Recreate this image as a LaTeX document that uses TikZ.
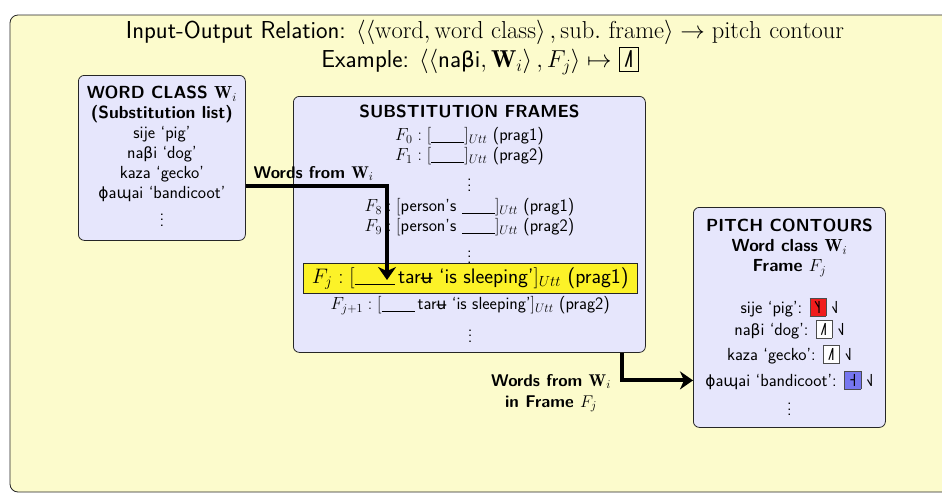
\RequirePackage{fix-cm}
\documentclass[tikz,border=0pt]{standalone}
\usepackage{fontspec}
\usetikzlibrary{arrows.meta}
\newfontfamily\ipafont{DejaVu Sans}[Scale=0.88]
\newfontfamily\tonefont{Noto Sans}
\newcommand{\ipa}[1]{{\ipafont #1}}
\newcommand{\tone}[1]{{\tonefont #1}}
\newcommand{\blank}{\underline{\hspace{1.9em}}}
\newcommand{\tonebox}[2]{{\setlength{\fboxsep}{3pt}\fcolorbox{black!70}{#1}{\hspace{1.5pt}\tone{#2}\hspace{1.5pt}}}}
\newcommand{\vdotsbig}{\vbox{\baselineskip5.5pt\lineskiplimit0pt\kern5pt\hbox{.}\hbox{.}\hbox{.}}}
\definecolor{blockyellow}{RGB}{252,251,204}
\definecolor{panellilac}{RGB}{230,230,252}
\definecolor{rowyellow}{RGB}{252,242,40}
\definecolor{tonered}{RGB}{240,28,28}
\definecolor{toneblue}{RGB}{118,118,240}
\begin{document}
\begin{tikzpicture}[
                x=1pt, y=-1pt,
                every node/.style={font=\sffamily\fontsize{17.5}{20}\selectfont},
                panel/.style={draw=black!85, fill=panellilac, rounded corners=6pt, line width=0.8pt},
                heading/.style={font=\sffamily\bfseries\fontsize{17}{21}\selectfont},
                flow/.style={line width=4pt, -{Stealth[length=13pt, width=18pt, inset=4pt]}}
                ]
                \useasboundingbox (0,0) rectangle (942,493);
                % block background
                \begin{scope}
                \clip (0,0) rectangle (942,493);
                \draw[fill=blockyellow, draw=black!85, line width=0.8pt, rounded corners=8pt] (10,15) rectangle (980,492);
                \end{scope}
                \node[font=\sffamily\fontsize{24.5}{28}\selectfont] (relation) at (485,32)
                  {Input-Output Relation: $\langle\langle\mathrm{word},\mathrm{word\ class}\rangle\,,\mathrm{sub.\ frame}\rangle\rightarrow\mathrm{pitch\ contour}$};
                \node[font=\sffamily\fontsize{24.5}{28}\selectfont] (example) at (480,61)
                  {Example: $\langle\langle\mbox{na\ipa{β}i},\mathbf{W}_i\rangle\,,F_j\rangle\mapsto$ {\setlength{\fboxsep}{3.5pt}\fbox{\hspace{1pt}\tone{˩˥}\hspace{1pt}}}};
                % word class
                \node[panel, minimum width=167, minimum height=165, anchor=north west] (wordclass) at (78,75) {};
                \node[align=center, anchor=north, inner sep=0pt] (wordlist) at ([yshift=-11pt]wordclass.north)
                  {\textbf{WORD CLASS $\mathbf{W}_i$}\\ \textbf{(Substitution list)}\\ sije ‘pig’\\ na\ipa{β}i ‘dog’\\
                   kaza ‘gecko’\\ \ipa{ɸ}a\ipa{ɰ}ai ‘bandicoot’\\[6pt] \vdotsbig};
                % substitution frames
                \node[panel, minimum width=352, minimum height=256, anchor=north west] (frames) at (293,96) {};
                \node[align=center, anchor=north, inner sep=0pt] (framelist) at ([yshift=-9pt]frames.north)
                  {\textbf{SUBSTITUTION FRAMES}\\[3pt] $F_0:[$\blank$]_{Utt}$ (prag1)\\ $F_1:[$\blank$]_{Utt}$ (prag2)\\[8pt] \vdotsbig\\
                   $F_8:[$person's \blank$]_{Utt}$ (prag1)\\ $F_9:[$person's \blank$]_{Utt}$ (prag2)\\[9pt] \vdotsbig};
                \node[draw=black!85, fill=rowyellow, minimum width=334, minimum height=30, anchor=north west,
                      font=\sffamily\fontsize{21}{24}\selectfont] (framej) at (303,263)
                  {$F_j:[$\blank\,tar\ipa{ʉ} ‘is sleeping’$]_{Utt}$ (prag1)};
                \node[align=center, anchor=north, inner sep=0pt] (framerest) at ([yshift=-3pt]framej.south)
                  {$F_{j+1}:[$\blank\,tar\ipa{ʉ} ‘is sleeping’$]_{Utt}$ (prag2)\\[9pt] \vdotsbig};
                % pitch contours
                \node[panel, minimum width=192, minimum height=220, anchor=north west] (pitch) at (693,207) {};
                \node[align=center, anchor=north, inner sep=0pt] (pitchlist) at ([yshift=-12pt]pitch.north)
                  {\textbf{PITCH CONTOURS}\\ \textbf{Word class $\mathbf{W}_i$}\\ \textbf{Frame $F_j$}\\[20pt]
                   sije ‘pig’: \tonebox{tonered}{˥˧} \tone{˧˩}\\[2pt]
                   na\ipa{β}i ‘dog’: \tonebox{white}{˩˥} \tone{˧˩}\\[5pt]
                   kaza ‘gecko’: \tonebox{white}{˩˥} \tone{˧˩}\\[6pt]
                   \ipa{ɸ}a\ipa{ɰ}ai ‘bandicoot’: \tonebox{toneblue}{˧} \tone{˧˩}\\[8pt] \vdotsbig};
                % arrows
                \coordinate (slot) at (387,280);
                \draw[flow] ([yshift=-28pt]wordclass.east) -| (slot)
                  node[heading, pos=0.24, above] (fromlabel) {Words from $\mathbf{W}_i$};
                \draw[flow] ([xshift=153pt]frames.south) |- ([yshift=-63pt]pitch.west);
                \node[heading, align=center] (intolabel) at (551,393) {Words from $\mathbf{W}_i$\\ in Frame $F_j$};
            \end{tikzpicture}
\end{document}
